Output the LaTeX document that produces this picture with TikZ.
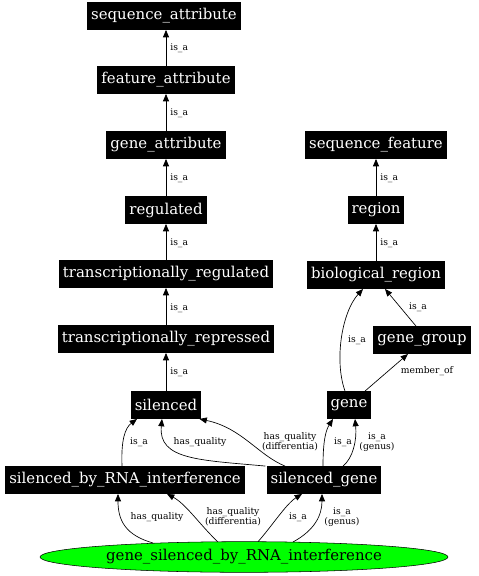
\documentclass[tikz,border=0pt]{standalone}
\usepackage{fontspec}
\usetikzlibrary{arrows.meta,shapes.geometric,calc}
\newfontfamily\dvserif{DejaVu Serif}
\newcommand{\nodefont}{\dvserif\fontsize{11.2}{13}\selectfont}
\newcommand{\lblfont}{\dvserif\fontsize{6.9}{7.8}\selectfont}
\definecolor{nodegreen}{HTML}{00FF00}
\tikzset{
  box/.style={fill=black, text=white, font=\nodefont, inner xsep=3pt, inner ysep=0pt, minimum height=20.5pt},
  oval/.style={ellipse, draw=black, fill=nodegreen, font=\nodefont, minimum width=306pt, minimum height=23pt, inner sep=0pt},
  lbl/.style={font=\lblfont, inner sep=0pt, align=center},
  arr/.style={-{Triangle[length=5.5pt,width=4.5pt]}, line width=0.5pt},
}
\begin{document}
\begin{tikzpicture}[x=0.75pt,y=-0.75pt]
\useasboundingbox (0,0) rectangle (479,576);
% nodes
\node[box] (sa) at (164,16) {sequence\_attribute};
\node[box] (fa) at (166,80) {feature\_attribute};
\node[box] (ga) at (166,145) {gene\_attribute};
\node[box] (reg) at (166,210) {regulated};
\node[box] (tr) at (166,274) {transcriptionally\_regulated};
\node[box] (trp) at (166,339) {transcriptionally\_repressed};
\node[box] (sil) at (166,405) {silenced};
\node[box] (sf) at (376,145) {sequence\_feature};
\node[box] (region) at (376,210) {region};
\node[box] (br) at (376,275) {biological\_region};
\node[box] (gg) at (422,340) {gene\_group};
\node[box] (gene) at (349,405) {gene};
\node[box] (sbr) at (125,480) {silenced\_by\_RNA\_interference};
\node[box] (sg) at (324,480) {silenced\_gene};
\node[oval] (gs) at (244,557) {gene\_silenced\_by\_RNA\_interference};
% straight is_a edges
\draw[arr] (fa.north -| 166,0) -- (sa.south -| 166,0) node[lbl, anchor=west] at (170,48) {is\_a};
\draw[arr] (ga) -- (fa) node[lbl, anchor=west] at (170,113) {is\_a};
\draw[arr] (reg) -- (ga) node[lbl, anchor=west] at (170,178) {is\_a};
\draw[arr] (tr) -- (reg) node[lbl, anchor=west] at (170,243) {is\_a};
\draw[arr] (trp) -- (tr) node[lbl, anchor=west] at (170,308) {is\_a};
\draw[arr] (sil) -- (trp) node[lbl, anchor=west] at (170,372) {is\_a};
\draw[arr] (region) -- (sf) node[lbl, anchor=west] at (380,178) {is\_a};
\draw[arr] (br) -- (region) node[lbl, anchor=west] at (380,243) {is\_a};
% right group
\draw[arr] ($(gene.north)+(-4,0)$) .. controls (334,360) and (342,312) .. ($(br.south)+(-13,0)$)
  node[lbl] at (357,340) {is\_a};
\draw[arr] ($(gg.north)+(-6,0)$) -- ($(br.south)+(9,0)$)
  node[lbl] at (418,307) {is\_a};
\draw[arr] ($(gene.north)+(16,0)$) -- ($(gg.south)+(-14,0)$)
  node[lbl] at (427,371) {member\_of};
% silenced group
\draw[arr] ($(sbr.north)+(-3,0)$) .. controls (121,440) and (125,428) .. ($(sil.south)+(-29,0)$)
  node[lbl] at (139,442) {is\_a};
\draw[arr] ($(sg.north west)+(-1,0)$) .. controls (200,460) and (158,460) .. ($(sil.south)+(-4,0)$)
  node[lbl] at (200,442) {has\_quality};
\draw[arr] ($(sg.north)+(-39,0)$) .. controls (258,455) and (242,428) .. ($(sil.south east)+(-2,0)$)
  node[lbl] at (290,442) {has\_quality\\(differentia)};
\draw[arr] ($(sg.north)+(-1,0)$) .. controls (323,440) and (326,430) .. ($(gene.south)+(-16,0)$)
  node[lbl] at (343,442) {is\_a};
\draw[arr] ($(sg.north)+(19,0)$) .. controls (353,458) and (357,440) .. ($(gene.south)+(6,0)$)
  node[lbl] at (377,442) {is\_a\\(genus)};
% ellipse edges
\draw[arr] ($(gs.center)+(-91,-14)$) .. controls (125,535) and (118,520) .. ($(sbr.south)+(-7,0)$)
  node[lbl] at (157,517) {has\_quality};
\draw[arr] ($(gs.center)+(-26,-15)$) .. controls (200,525) and (186,504) .. ($(sbr.south)+(42,0)$)
  node[lbl] at (233,517) {has\_quality\\(differentia)};
\draw[arr] ($(gs.center)+(14,-15.3)$) .. controls (272,526) and (286,504) .. ($(sg.south)+(-22,0)$)
  node[lbl] at (298,517) {is\_a};
\draw[arr] ($(gs.center)+(49,-15)$) .. controls (315,530) and (322,515) .. ($(sg.south)+(-2,0)$)
  node[lbl] at (342,517) {is\_a\\(genus)};
\end{tikzpicture}
\end{document}
